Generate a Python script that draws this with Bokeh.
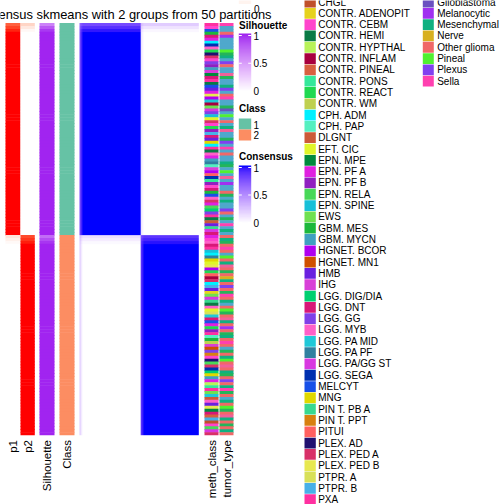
import numpy as np
from bokeh.plotting import figure
from bokeh.models import Range1d, LinearColorMapper
from bokeh.embed import file_html
from bokeh.resources import INLINE
from bokeh.core.properties import value

# ---------------- data ----------------
title_text = "Consensus skmeans with 2 groups from 50 partitions"

class_labels = ["1", "2"]
class_colors = ["#66C2A5", "#FC8D62"]
n_class1 = 72
n_class2 = 68

# membership probabilities (rows ordered by class)
p1_vals = [0.78, 0.88, 0.96] + [1.0] * 69 + [0.14, 0.08, 0.03] + [0.0] * 65
p2_vals = [0.22, 0.12, 0.04] + [0.0] * 69 + [0.86, 0.92, 0.97] + [1.0] * 65
silhouette_vals = [0.62, 0.8, 0.93] + [0.99] * 69 + [0.72, 0.85, 0.94] + [0.99] * 65

meth_class_names = [
    "CHGL", "CONTR. ADENOPIT", "CONTR. CEBM", "CONTR. HEMI", "CONTR. HYPTHAL",
    "CONTR. INFLAM", "CONTR. PINEAL", "CONTR. PONS", "CONTR. REACT", "CONTR. WM",
    "CPH. ADM", "CPH. PAP", "DLGNT", "EFT. CIC", "EPN. MPE", "EPN. PF A",
    "EPN. PF B", "EPN. RELA", "EPN. SPINE", "EWS", "GBM. MES", "GBM. MYCN",
    "HGNET. BCOR", "HGNET. MN1", "HMB", "IHG", "LGG. DIG/DIA", "LGG. DNT",
    "LGG. GG", "LGG. MYB", "LGG. PA MID", "LGG. PA PF", "LGG. PA/GG ST",
    "LGG. SEGA", "MELCYT", "MNG", "PIN T. PB A", "PIN T. PPT", "PITUI",
    "PLEX. AD", "PLEX. PED A", "PLEX. PED B", "PTPR. A", "PTPR. B", "PXA",
]
meth_class_colors = [
    "#C0502A", "#E6D21E", "#FF44CC", "#0A7A45", "#B8F25A",
    "#A8003F", "#D86040", "#35E89A", "#20D850", "#BFD050",
    "#00F0FF", "#55F0C0", "#CC5A38", "#E0F52A", "#008A3C", "#E020E0",
    "#9020C0", "#48D858", "#18C0D8", "#70E050", "#1CB83C", "#40A0C0",
    "#B000F0", "#D05000", "#6A20E0", "#D840D8", "#00D070", "#D81878",
    "#8040E8", "#FF60C8", "#20C8D8", "#3080A0", "#D838E0",
    "#0030B0", "#1850E8", "#E0D800", "#38D890", "#D88010", "#FF6060",
    "#201070", "#D83068", "#E8E850", "#D8E058", "#48B0E8", "#FF30A0",
]
tumor_type_names = [
    "Control", "Embryonal", "Ependymal", "Glio-neuronal", "Glioblastoma",
    "Melanocytic", "Mesenchymal", "Nerve", "Other glioma", "Pineal",
    "Plexus", "Sella",
]
tumor_type_colors = [
    "#B0D850", "#4FA8CC", "#24B45A", "#F0609A", "#6A50C0",
    "#A030F0", "#10B080", "#D8B020", "#F06868", "#50F030",
    "#8040F0", "#FF40B0",
]

meth_class_idx = [
    44, 2, 34, 20, 27, 15, 10, 33, 29, 8, 39, 40, 2, 28, 16, 21, 25, 14, 27, 44,
    3, 34, 24, 15, 41, 22, 30, 5, 19, 32, 28, 18, 13, 40, 2, 8, 16, 43, 27, 24,
    35, 10, 44, 3, 29, 15, 21, 31, 11, 25, 22, 38, 33, 7, 16, 2, 27, 20, 34, 29,
    40, 15, 17, 26, 28, 44, 3, 12, 24, 36, 32, 27,
    15, 2, 29, 27, 44, 18, 10, 31, 35, 13, 41, 22, 8, 38, 5, 40, 10, 43, 24, 1,
    19, 32, 36, 3, 29, 13, 42, 30, 27, 34, 15, 8, 16, 44, 11, 20, 9, 25, 23, 28,
    37, 2, 39, 17, 40, 33, 26, 35, 21, 15, 4, 7, 44, 19, 30, 12, 29, 24, 41, 14,
    27, 6, 43, 0, 2, 17, 32, 40,
]
tumor_type_idx = [
    11, 1, 1, 8, 5, 1, 1, 1, 1, 9, 2, 6, 1, 10, 8, 1, 1, 3, 2, 1,
    1, 6, 10, 1, 8, 11, 1, 1, 2, 4, 1, 9, 1, 8, 1, 6, 3, 1, 1, 2,
    10, 1, 11, 1, 8, 1, 1, 6, 2, 1, 9, 1, 3, 1, 5, 1, 1, 8, 2, 1,
    6, 1, 1, 10, 8, 1, 2, 1, 11, 1, 6, 1,
    8, 6, 2, 8, 11, 8, 1, 9, 8, 6, 3, 8, 2, 8, 7, 6, 8, 10, 8, 2,
    11, 8, 6, 1, 8, 9, 2, 8, 3, 6, 8, 5, 8, 2, 6, 8, 11, 8, 1, 2,
    8, 6, 9, 8, 3, 8, 6, 2, 8, 10, 8, 6, 11, 2, 8, 1, 6, 8, 9, 2,
    8, 3, 6, 8, 2, 8, 6, 8,
]
legend_breaks = [0, 0.5, 1]
legend_break_labels = ["0", "0.5", "1"]

N = n_class1 + n_class2
assert len(p1_vals) == N and len(p2_vals) == N and len(silhouette_vals) == N
assert len(meth_class_idx) == N and len(tumor_type_idx) == N

# ---------------- colour helpers (LAB interpolation like colorRamp2) ----------------
def _hex2rgb(h):
    h = h.lstrip("#")
    return np.array([int(h[i:i + 2], 16) for i in (0, 2, 4)], dtype=float) / 255.0

_M = np.array([[0.4124564, 0.3575761, 0.1804375],
               [0.2126729, 0.7151522, 0.0721750],
               [0.0193339, 0.1191920, 0.9503041]])
_Mi = np.linalg.inv(_M)
_WP = np.array([0.95047, 1.0, 1.08883])

def _rgb2lab(rgb):
    lin = np.where(rgb <= 0.04045, rgb / 12.92, ((rgb + 0.055) / 1.055) ** 2.4)
    xyz = _M @ lin / _WP
    f = np.where(xyz > 216 / 24389, np.cbrt(xyz), (24389 / 27 * xyz + 16) / 116)
    return np.array([116 * f[1] - 16, 500 * (f[0] - f[1]), 200 * (f[1] - f[2])])

def _lab2rgb(lab):
    fy = (lab[0] + 16) / 116
    fx = fy + lab[1] / 500
    fz = fy - lab[2] / 200
    f = np.array([fx, fy, fz])
    xyz = np.where(f ** 3 > 216 / 24389, f ** 3, (116 * f - 16) / (24389 / 27)) * _WP
    lin = np.clip(_Mi @ xyz, 0, 1)
    rgb = np.where(lin <= 0.0031308, 12.92 * lin, 1.055 * lin ** (1 / 2.4) - 0.055)
    return np.clip(rgb, 0, 1)

def ramp(c0, c1, t):
    l0, l1 = _rgb2lab(_hex2rgb(c0)), _rgb2lab(_hex2rgb(c1))
    rgb = _lab2rgb(l0 + (l1 - l0) * t)
    return "#%02x%02x%02x" % tuple(int(round(v * 255)) for v in rgb)

def palette(c0, c1, n=256):
    return [ramp(c0, c1, i / (n - 1)) for i in range(n)]

# ---------------- layout (reference pixel space) ----------------
FONT = "Liberation Sans"
p = figure(width=504, height=504, x_range=Range1d(0, 504), y_range=Range1d(504, 0),
           output_backend="svg", toolbar_location=None, min_border=0,
           x_axis_location=None, y_axis_location=None, title=None)
p.grid.visible = False
p.outline_line_color = None
p.background_fill_color = "white"
p.border_fill_color = "white"

TOP, BOT = 22.5, 434.7
rh = (BOT - TOP) / N
row_top = np.array([TOP + i * rh for i in range(N)])
row_bot = row_top + rh

def column(x0, x1, colors):
    # slight overlap between rows avoids anti-aliasing seams
    bottoms = np.minimum(row_bot + 0.6, BOT)
    p.quad(left=x0, right=x1, top=row_top, bottom=bottoms, fill_color=colors,
           line_color=None)

column(5, 20, [ramp("#FFFFFF", "#FF0000", v) for v in p1_vals])
column(20, 34.3, [ramp("#FFFFFF", "#FF0000", v) for v in p2_vals])
column(39, 54, [ramp("#FFFFFF", "#A020F0", v) for v in silhouette_vals])
cls = [class_colors[0]] * n_class1 + [class_colors[1]] * n_class2
column(59, 74, cls)
column(204, 218, [meth_class_colors[i] for i in meth_class_idx])
column(219, 233, [tumor_type_colors[i] for i in tumor_type_idx])

# consensus heatmap
p1a, p2a = np.array(p1_vals), np.array(p2_vals)
cons = np.outer(p1a, p1a) + np.outer(p2a, p2a)
HX0, HX1 = 79, 198.3
cons_mapper = LinearColorMapper(palette=palette("#FFFFFF", "#0000FF"), low=0, high=1)
p.image(image=[cons], x=HX0, y=TOP, dw=HX1 - HX0, dh=BOT - TOP, color_mapper=cons_mapper)

# title
p.text(x=[271], y=[13.5], text=[title_text], text_align="right", text_baseline="alphabetic",
       text_font=value(FONT), text_font_size="12.9px", text_color="black")

# gradient legends
LX0, LX1 = 238.3, 250.7

# bottom end of the membership-probability legend (mostly above the picture)
p.quad(left=[LX0], right=[LX1], top=[-5], bottom=[3.5],
       fill_color=[ramp("#FFFFFF", "#FF0000", 0.06)], line_color=None)
p.text(x=[253.5], y=[8.3], text=[legend_break_labels[0]], text_align="left", text_baseline="middle",
       text_font=value(FONT), text_font_size="10px", text_color="black")

# bottom annotation names
names = ["p1", "p2", "Silhouette", "Class", "meth_class", "tumor_type"]
name_x = [12.8, 27.4, 46.8, 66.8, 211.3, 226.3]
p.text(x=name_x, y=[439.5] * len(names), text=names, angle=np.pi / 2, text_align="right",
       text_baseline="middle", text_font=value(FONT), text_font_size="11.5px", text_color="black")

def grad_legend(title, ty, y0, y1, c1):
    p.text(x=[238.5], y=[ty], text=[title], text_baseline="middle", text_font=value(FONT),
           text_font_size="10px", text_font_style="bold", text_color="black")
    grad = np.linspace(0, 1, 100).reshape(100, 1)[::-1]
    m = LinearColorMapper(palette=palette("#FFFFFF", c1), low=0, high=1)
    p.image(image=[grad], x=LX0, y=y0, dw=LX1 - LX0, dh=y1 - y0, color_mapper=m)
    ys = [y1 - 0.5 - (y1 - y0 - 2.5) * b for b in legend_breaks]
    p.segment(x0=[LX0] * 3, x1=[LX0 + 3] * 3, y0=ys, y1=ys, line_color="white", line_width=1)
    p.segment(x0=[LX1 - 3] * 3, x1=[LX1] * 3, y0=ys, y1=ys, line_color="white", line_width=1)
    p.text(x=[253] * 3, y=ys, text=legend_break_labels, text_baseline="middle",
           text_font=value(FONT), text_font_size="10px", text_color="black")

grad_legend("Silhouette", 25, 33, 91, "#A020F0")
grad_legend("Consensus", 156, 165, 222.5, "#0000FF")

# class legend
p.text(x=[238.5], y=[108], text=["Class"], text_baseline="middle", text_font=value(FONT),
       text_font_size="10px", text_font_style="bold", text_color="black")
p.quad(left=[LX0, LX0], right=[LX1, LX1], top=[118, 129], bottom=[129, 140],
       fill_color=class_colors, line_color=None)
p.text(x=[253, 253], y=[124, 134.5], text=class_labels, text_baseline="middle",
       text_font=value(FONT), text_font_size="10px", text_color="black")

# discrete legends (meth_class column 1, tumor_type column 2 continuing from above)
ROW0, RSTEP = 1.5, 11.31
def disc_legend(bx0, bx1, tx, start_row, labels, colors):
    ys = np.array([ROW0 + (start_row + i) * RSTEP for i in range(len(labels))])
    p.quad(left=bx0, right=bx1, top=ys - 5.4, bottom=ys + 5.4, fill_color=colors, line_color=None)
    p.text(x=tx, y=ys, text=labels, text_baseline="middle", text_font=value(FONT),
           text_font_size="10px", text_color="black")

disc_legend(304, 315.3, 317.7, 0, meth_class_names, meth_class_colors)
disc_legend(422.3, 433.3, 436.7, -4, tumor_type_names, tumor_type_colors)

open("out.html", "w").write(file_html(p, INLINE))
